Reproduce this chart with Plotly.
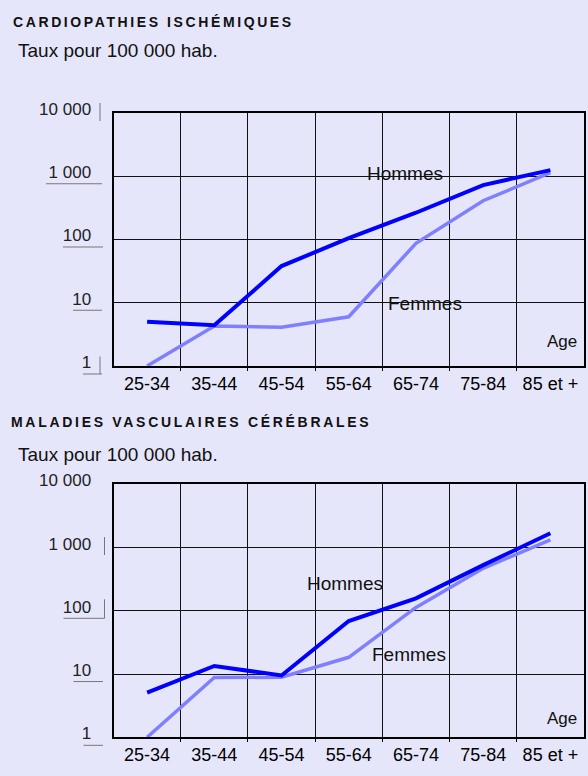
import math
import plotly.graph_objects as go

# ---------------- data ----------------
age_groups = ["25-34", "35-44", "45-54", "55-64", "65-74", "75-84", "85 et +"]

cardio_hommes = [5.0, 4.4, 38, 105, 265, 725, 1250]
cardio_femmes = [1.0, 4.3, 4.1, 6.0, 87, 410, 1140]

avc_hommes = [5.1, 13.4, 9.5, 69, 157, 528, 1680]
avc_femmes = [1.0, 8.8, 8.9, 18.4, 113, 470, 1320]

y_tick_values = [1, 10, 100, 1000, 10000]
y_tick_labels = ["1", "10", "100", "1 000", "10 000"]

title_top = "CARDIOPATHIES ISCHÉMIQUES"
title_bottom = "MALADIES VASCULAIRES CÉRÉBRALES"
subtitle = "Taux pour 100 000 hab."

# ---------------- style ----------------
W, H = 588, 776
BG = "#E6E6FA"
C_H = "#0000FF"
C_F = "#8080FF"
FONT = "Liberation Sans, Arial, sans-serif"

x_dom = [113.5 / W, 584 / W]
top_px = (113, 366)
bot_px = (484.3, 737.3)


def pdom(px):
    return [(H - px[1]) / H, (H - px[0]) / H]


x_idx = list(range(len(age_groups)))

fig = go.Figure()
for xa, ya, hv, fv in (("x", "y", cardio_hommes, cardio_femmes),
                       ("x2", "y2", avc_hommes, avc_femmes)):
    fig.add_trace(go.Scatter(x=x_idx, y=fv, mode="lines", xaxis=xa, yaxis=ya,
                             line=dict(color=C_F, width=3.5), showlegend=False))
    fig.add_trace(go.Scatter(x=x_idx, y=hv, mode="lines", xaxis=xa, yaxis=ya,
                             line=dict(color=C_H, width=4), showlegend=False))

xaxis_common = dict(
    range=[-0.5, len(age_groups) - 0.5],
    tickmode="array", tickvals=x_idx, ticktext=age_groups,
    showgrid=False, ticks="", zeroline=False, automargin=False,
    showline=True, linecolor="black", linewidth=2, mirror=True,
    tickfont=dict(family=FONT, size=18, color="black"),
    minor=dict(tickmode="array",
               tickvals=[i + 0.5 for i in x_idx[:-1]],
               showgrid=True, gridcolor="#111111", gridwidth=1.3,
               ticks="outside", ticklen=3, tickcolor="black", tickwidth=1.3),
    fixedrange=True,
)
yaxis_common = dict(
    type="log", range=[0, 4],
    tickmode="array", tickvals=y_tick_values, ticktext=y_tick_labels,
    showgrid=True, gridcolor="#111111", gridwidth=1.3, zeroline=False,
    automargin=False,
    showline=True, linecolor="black", linewidth=2, mirror=True,
    ticks="", tickfont=dict(family=FONT, size=17, color="#222222"),
    ticklabelshift=-4, ticklabelstandoff=17,
    fixedrange=True,
)

fig.update_layout(
    width=W, height=H, autosize=False,
    margin=dict(l=0, r=0, t=0, b=0, pad=0),
    paper_bgcolor=BG, plot_bgcolor=BG,
    showlegend=False,
    xaxis=dict(domain=x_dom, anchor="y", **xaxis_common),
    yaxis=dict(domain=pdom(top_px), anchor="x", **yaxis_common),
    xaxis2=dict(domain=x_dom, anchor="y2", **xaxis_common),
    yaxis2=dict(domain=pdom(bot_px), anchor="x2", **yaxis_common),
)

# titles
annots = []
def txt(text, x, y, size, bold=False, spacing=None, xanchor="left"):
    t = text
    if spacing:
        t = '<span style="letter-spacing:%spx">%s</span>' % (spacing, t)
    if bold:
        t = "<b>" + t + "</b>"
    annots.append(dict(text=t, x=x, y=y, xref="paper", yref="paper",
                       xanchor=xanchor, yanchor="middle", showarrow=False,
                       font=dict(family=FONT, size=size, color="#111111",
                                 weight="bold" if bold else "normal")))

txt(title_top, 11 / W, 1 - 21.5 / H, 14, bold=True, spacing=2.6)
txt(subtitle, 16 / W, 1 - 51 / H, 19)
txt(title_bottom, 9 / W, 1 - 422 / H, 14, bold=True, spacing=2.7)
txt(subtitle, 16 / W, 1 - 454 / H, 19)

# series labels inside plots (data coordinates; log axes take log10)
for xr, yr, items in (("x", "y", [("Hommes", 3.84, 3.04, 19), ("Femmes", 4.14, 0.99, 19), ("Age", 6.17, 0.38, 17)]),
                      ("x2", "y2", [("Hommes", 2.95, 2.43, 19), ("Femmes", 3.9, 1.31, 19), ("Age", 6.17, 0.30, 17)])):
    for label, xv, yv, fs in items:
        annots.append(dict(text=label, x=xv, y=yv, xref=xr, yref=yr,
                           xanchor="center", yanchor="middle", showarrow=False,
                           font=dict(family=FONT, size=fs, color="#111111")))
fig.update_layout(annotations=annots)

# small decorative marks next to the y tick labels (as in the scanned original)
def decor(yref_dom, xleft_px, value, kind, a, b, c=None):
    frac = math.log10(value) / 4
    xa = xleft_px / W
    if kind == "bar":  # vertical bar at x offset a, from y offset b to c (pixels, down positive)
        return dict(type="line", xref="paper", xsizemode="pixel", xanchor=xa,
                    x0=a, x1=a, yref=yref_dom, ysizemode="pixel", yanchor=frac,
                    y0=-b, y1=-c, line=dict(color="#777777", width=1))
    # underline: from x offset a to b at y offset c
    return dict(type="line", xref="paper", xsizemode="pixel", xanchor=xa,
                x0=a, x1=b, yref=yref_dom, ysizemode="pixel", yanchor=frac,
                y0=-c, y1=-c, line=dict(color="#777777", width=1))

shapes = [
    decor("y domain", 113.5, 10000, "bar", -13.5, -10, 8),
    decor("y domain", 113.5, 1000, "line", -67.5, -11.5, 7.5),
    decor("y domain", 113.5, 100, "line", -50.5, -10.5, 7.5),
    decor("y domain", 113.5, 10, "line", -40.5, -11.5, 7.5),
    decor("y domain", 113.5, 1, "bar", -13.5, -9.5, 8),
    decor("y domain", 113.5, 1, "line", -30.5, -11.5, 8),
    decor("y2 domain", 113.5, 1000, "bar", -9, -10.5, 7.5),
    decor("y2 domain", 113.5, 100, "bar", -9, -11.5, 7.5),
    decor("y2 domain", 113.5, 100, "line", -50, -9, 7.5),
    decor("y2 domain", 113.5, 10, "line", -40, -10.5, 7.5),
    decor("y2 domain", 113.5, 1, "line", -30, -10.5, 8),
]
fig.update_layout(shapes=shapes)

fig.write_html("out.html")
